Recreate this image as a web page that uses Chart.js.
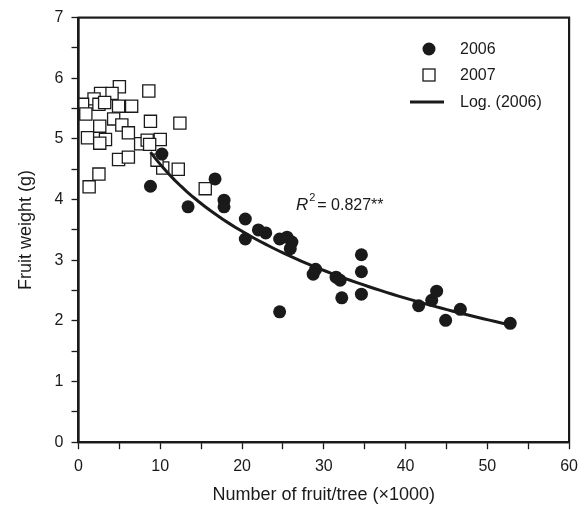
<!DOCTYPE html>
<html>
<head>
<meta charset="utf-8">
<script src="https://cdn.jsdelivr.net/npm/chart.js@4.4.1/dist/chart.umd.min.js"></script>
<style>
  html, body { margin: 0; padding: 0; background: #fff; }
  #wrap { width: 586px; height: 506px; }
</style>
</head>
<body>
<div id="wrap"><canvas id="fruit-chart" width="586" height="506"></canvas></div>
<script>
// 2006 season (filled circles)
const fruit2006 = [8.8, 10.2, 13.4, 16.7, 17.8, 17.8, 20.4, 20.4, 22.0, 22.9, 24.6, 24.6, 25.5, 25.9, 26.1,
  28.7, 29.0, 31.5, 32.0, 32.2, 34.6, 34.6, 34.6, 41.6, 43.2, 43.8, 44.9, 46.7, 52.8];
const weight2006 = [4.22, 4.75, 3.88, 4.34, 3.99, 3.88, 3.68, 3.35, 3.50, 3.45, 2.15, 3.35, 3.38, 3.19, 3.30,
  2.77, 2.85, 2.72, 2.67, 2.38, 3.09, 2.81, 2.44, 2.25, 2.34, 2.49, 2.01, 2.19, 1.96];

// 2007 season (open squares)
const fruit2007 = [5.0, 8.6, 2.7, 4.1, 1.9, 0.5, 2.5, 4.9, 6.5, 4.3, 8.8, 12.4, 2.6, 5.3, 6.1,
  1.1, 3.3, 2.6, 7.6, 8.4, 10.0, 8.7, 4.9, 6.1, 10.3, 12.2, 2.5, 1.3, 15.5, 9.6, 0.9, 3.2];
const weight2007 = [5.86, 5.79, 5.75, 5.75, 5.66, 5.57, 5.57, 5.54, 5.54, 5.33, 5.29, 5.26, 5.21, 5.23, 5.10,
  5.02, 4.99, 4.93, 4.92, 4.98, 4.99, 4.91, 4.66, 4.70, 4.52, 4.50, 4.42, 4.21, 4.18, 4.65, 5.41, 5.60];

// Log. (2006) trendline y = a*ln(x) + b, coefficients
const trendA = -1.59;
const trendB = 8.24;
const trendFrom = 8.8;
const trendTo = 53.2;

const xTicks = [0, 10, 20, 30, 40, 50, 60];
const yTicks = [0, 1, 2, 3, 4, 5, 6, 7];
const r2Text = '0.827**';

const font = "'Liberation Sans', Arial, Helvetica, sans-serif";
const ink = '#1a1a1a';

const trend = [];
for (let i = 0; i <= 60; i++) {
  let x = trendFrom + (trendTo - trendFrom) * i / 60;
  trend.push({ x: x, y: trendA * Math.log(x) + trendB });
}

function pairs(xs, ys) {
  return xs.map((x, i) => ({ x: x, y: ys[i] }));
}

// frame, legend and R² note
const decorations = {
  id: 'decorations',
  afterDraw(chart) {
    const ctx = chart.ctx;
    const a = chart.chartArea;
    ctx.save();
    ctx.strokeStyle = ink;
    ctx.lineWidth = 2.2;
    ctx.strokeRect(a.left, a.top, a.right - a.left, a.bottom - a.top);

    // legend
    ctx.fillStyle = ink;
    ctx.beginPath();
    ctx.arc(429, 49, 6.5, 0, Math.PI * 2);
    ctx.fill();
    ctx.fillStyle = '#fff';
    ctx.lineWidth = 1.3;
    ctx.fillRect(423, 69, 12, 12);
    ctx.strokeRect(423, 69, 12, 12);
    ctx.lineWidth = 3;
    ctx.beginPath();
    ctx.moveTo(410, 102);
    ctx.lineTo(444, 102);
    ctx.stroke();
    ctx.fillStyle = ink;
    ctx.font = '16px ' + font;
    ctx.textBaseline = 'middle';
    ctx.textAlign = 'left';
    ctx.fillText('2006', 460, 50);
    ctx.fillText('2007', 460, 76);
    ctx.fillText('Log. (2006)', 460, 103);

    // R² annotation
    ctx.textBaseline = 'alphabetic';
    ctx.font = 'italic 17px ' + font;
    ctx.fillText('R', 296, 210);
    let w = ctx.measureText('R').width;
    ctx.font = '11px ' + font;
    ctx.fillText('2', 296 + w + 1, 201);
    ctx.font = '16px ' + font;
    ctx.fillText('= ' + r2Text, 296 + w + 9, 210);
    ctx.restore();
  }
};

new Chart(document.getElementById('fruit-chart'), {
  type: 'scatter',
  data: {
    datasets: [
      {
        label: 'Log. (2006)',
        type: 'line',
        data: trend,
        borderColor: ink,
        borderWidth: 3,
        pointRadius: 0,
        fill: false,
        tension: 0,
        order: 0,
      },
      {
        label: '2006',
        data: pairs(fruit2006, weight2006),
        pointStyle: 'circle',
        pointRadius: 6.5,
        backgroundColor: ink,
        borderColor: ink,
        borderWidth: 0,
        order: 1,
      },
      {
        label: '2007',
        data: pairs(fruit2007, weight2007),
        pointStyle: 'rect',
        pointRadius: 8.6,
        backgroundColor: '#fff',
        borderColor: ink,
        borderWidth: 1.3,
        order: 2,
      },
    ],
  },
  options: {
    responsive: false,
    animation: false,
    layout: { padding: { top: 10, right: 9, left: 15, bottom: 0 } },
    plugins: {
      legend: { display: false },
      tooltip: { enabled: false },
    },
    scales: {
      x: {
        type: 'linear',
        min: 0,
        max: 60,
        ticks: {
          stepSize: 5,
          color: ink,
          font: { family: font, size: 16 },
          padding: 8,
          maxRotation: 0,
          callback: (v) => (xTicks.includes(v) ? String(v) : ''),
        },
        grid: { drawOnChartArea: false, tickLength: 7, tickColor: ink, tickWidth: 1.3 },
        border: { color: ink, width: 2.2 },
        title: {
          display: true,
          text: 'Number of fruit/tree (\u00d71000)',
          color: ink,
          font: { family: font, size: 18 },
          padding: { top: 0, bottom: 0 },
        },
      },
      y: {
        min: 0,
        max: 7,
        ticks: {
          stepSize: 0.5,
          color: ink,
          font: { family: font, size: 16 },
          padding: 8,
          callback: (v) => (yTicks.includes(v) ? String(v) : ''),
        },
        grid: { drawOnChartArea: false, tickLength: 7, tickColor: ink, tickWidth: 1.3 },
        border: { color: ink, width: 2.2 },
        title: {
          display: true,
          text: 'Fruit weight (g)',
          color: ink,
          font: { family: font, size: 18 },
          padding: { top: 0, bottom: 10 },
        },
      },
    },
  },
  plugins: [decorations],
});
</script>
</body>
</html>
